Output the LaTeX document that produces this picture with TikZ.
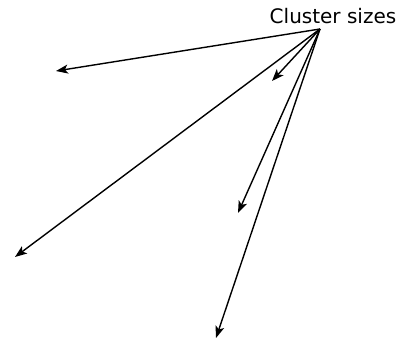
\documentclass[tikz,border=0pt]{standalone}
\usepackage{fontspec}
\setmainfont{DejaVu Sans}
\usepackage{tikz}
\usetikzlibrary{arrows.meta}

\begin{document}
\begin{tikzpicture}[x=1pt,y=-1pt,
    seta/.style={line width=1.4pt,-{Stealth[length=12pt,width=9pt,inset=3pt]}}]
    \useasboundingbox (0,0) rectangle (403,343);
    % Rotulo
    \node[font=\fontsize{20}{24}\selectfont, inner sep=0pt, anchor=base] (rot) at (333,23) {Cluster sizes};
    \coordinate (orig) at (320,29);
    % Pontas
    \coordinate (p1) at (56,71);
    \coordinate (p2) at (272,81);
    \coordinate (p3) at (15,257);
    \coordinate (p4) at (238,213);
    \coordinate (p5) at (216,338);
    % Setas
    \foreach \p in {p1,p2,p3,p4,p5} {
        \draw[seta] (orig) -- (\p);
    }
\end{tikzpicture}
\end{document}
